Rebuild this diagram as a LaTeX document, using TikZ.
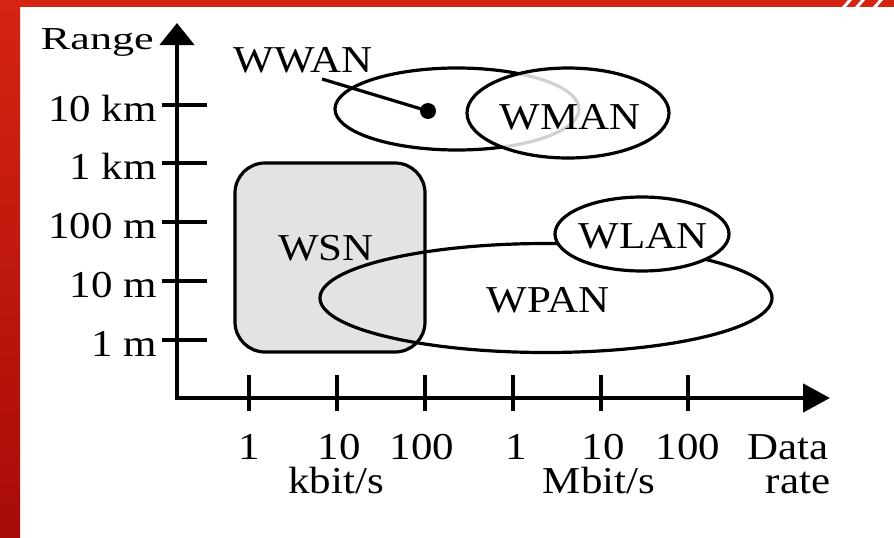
\documentclass[tikz,border=0pt]{standalone}
\usepackage{fontspec}
\setmainfont{Liberation Serif}[FakeStretch=1.13]
\newfontfamily\axisnamefont{Liberation Serif}[FakeStretch=1.38]
\usetikzlibrary{arrows.meta,shapes.geometric}

\definecolor{frameRedTop}{HTML}{D52412}
\definecolor{frameRedBot}{HTML}{A80B08}
\definecolor{wsnGrey}{HTML}{E3E3E3}

\tikzset{
  lbl/.style={font=\fontsize{38}{42}\selectfont, inner sep=0pt},
  axis/.style={line width=4.5pt, line join=miter},
  tick/.style={line width=4.5pt},
  net/.style={ellipse, draw=black, line width=3.2pt, inner sep=0pt},
}

\begin{document}
\begin{tikzpicture}[x=1pt,y=-1pt]
  \useasboundingbox (0,0) rectangle (894,538);
  \fill[white] (0,0) rectangle (894,538);

  % red slide frame
  \shade[top color=frameRedTop, bottom color=frameRedBot] (0,0) rectangle (20,538);
  \fill[frameRedTop] (0,0) rectangle (894,7);
  \foreach \sx in {842,855,873}
    \fill[white] (\sx,7) -- (\sx+4,7) -- (\sx+10,0) -- (\sx+6,0) -- cycle;

  % WWAN / WMAN
  \node[net, minimum width=244pt, minimum height=82pt] (wwan) at (457,109) {};
  \node[net, draw=none, fill=white, fill opacity=0.82, minimum width=202pt, minimum height=90pt] (wmanfill) at (568,113) {};
  \node[net, minimum width=202pt, minimum height=90pt] (wman) at (568,113) {};
  \coordinate (wwantail) at (322,79);
  \node[circle, fill=black, minimum size=16pt, inner sep=0pt] (wwandot) at (428,111) {};
  \draw[line width=3.2pt] (wwantail) -- (wwandot.center);

  % WSN
  \node[draw=black, fill=wsnGrey, line width=3.2pt, rounded corners=30pt,
        minimum width=190pt, minimum height=189pt, inner sep=0pt] (wsn) at (330,257.5) {};

  % WPAN / WLAN
  \node[net, minimum width=452pt, minimum height=109pt] (wpan) at (546,298) {};
  \node[net, fill=white, minimum width=174pt, minimum height=74pt] (wlan) at (642,234) {};

  % network labels
  \node[lbl] (wwanlbl) at (303,60) {WWAN};
  \node[lbl] (wmanlbl) at (570,117) {WMAN};
  \node[lbl] (wsnlbl) at (326,248) {WSN};
  \node[lbl] (wpanlbl) at (548,300) {WPAN};
  \node[lbl] (wlanlbl) at (643,236) {WLAN};

  % axes
  \coordinate (O) at (177,398);
  \coordinate (ytop) at (177,23);
  \coordinate (xend) at (830,398);
  \draw[axis, {Triangle[length=22pt,width=34pt]}-{Triangle[length=27pt,width=28pt]}]
    (ytop) -- (O) -- (xend);

  % range ticks and labels
  \foreach \yy/\txt in {105/10 km,163/1 km,222/100 m,281/10 m,340/1 m} {
    \draw[tick] (162,\yy) -- (207,\yy);
    \node[lbl, anchor=base east] at (157,\yy+16) {\txt};
  }
  \node[lbl, anchor=base east, font=\fontsize{32}{36}\selectfont\axisnamefont] (rangelbl) at (154,49) {Range};

  % data-rate ticks and labels
  \foreach \xx in {249,337,425,513,601,688}
    \draw[tick] (\xx,375) -- (\xx,411);
  \foreach \xx/\txt in {249/1,339/10,422/100,516/1,603/10,688/100}
    \node[lbl, anchor=base] at (\xx,459) {\txt};
  \node[lbl, anchor=base] (datalbl) at (788,459) {Data};
  \node[lbl, anchor=base] (ratelbl) at (798,493) {rate};
  \node[lbl, anchor=base] (kbitlbl) at (336,493) {kbit/s};
  \node[lbl, anchor=base] (mbitlbl) at (599,493) {Mbit/s};
\end{tikzpicture}
\end{document}
